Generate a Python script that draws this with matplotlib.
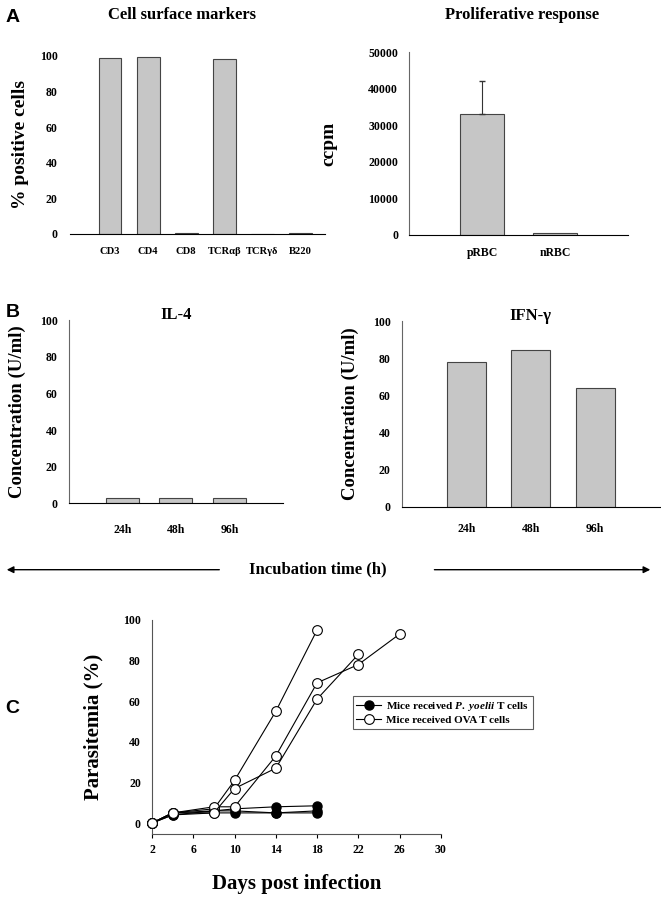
import matplotlib
matplotlib.use("Agg")
import matplotlib.pyplot as plt

plt.rcParams["mathtext.fontset"] = "custom"
plt.rcParams["mathtext.it"] = "Liberation Serif:italic:bold"
plt.rcParams["mathtext.rm"] = "Liberation Serif:bold"

# ---- data ----
markers = ["CD3", "CD4", "CD8", "TCR\u03b1\u03b2", "TCR\u03b3\u03b4", "B220"]
pct_positive = [99, 99.2, 0.3, 98, 0.1, 0.3]

stimuli = ["pRBC", "nRBC"]
ccpm = [33000, 600]
ccpm_err = [9000, 0]

times = ["24h", "48h", "96h"]
il4 = [3, 3, 3]
ifng = [78, 84.5, 64]

days = [2, 4, 8, 10, 14, 18, 22, 26]
yoelii_mice = [
    [0, 4, 5, 5, 5, 5],
    [0, 4, 6, 7, 8, 8.5],
    [0, 5, 6, 6, 5, 6],
]
ova_mice = [
    [0, 5, 7, 21, 55, 95],
    [0, 5, 8, 8, 33, 69, 78, 93],
    [0, 5, 5, 17, 27, 61, 83],
]

SERIF = "Liberation Serif"
BAR = "#c6c6c6"
EDGE = "#444444"

fig = plt.figure(figsize=(6.61, 9.0), dpi=100)

def style_bar_axes(ax, labelsize=8.5):
    for s in ["top", "right"]:
        ax.spines[s].set_visible(False)
    ax.tick_params(axis="both", length=0, labelsize=labelsize)
    for lab in ax.get_xticklabels() + ax.get_yticklabels():
        lab.set_fontfamily(SERIF)
        lab.set_fontweight("bold")

# ---- A left: cell surface markers ----
ax1 = fig.add_axes([0.106, 0.74, 0.386, 0.198])
ax1.bar(range(len(markers)), pct_positive, width=0.6, color=BAR, edgecolor=EDGE, linewidth=0.8)
ax1.set_xlim(-1.05, 5.65)
ax1.set_ylim(0, 100)
ax1.set_yticks([0, 20, 40, 60, 80, 100])
ax1.set_xticks(range(len(markers)))
ax1.set_xticklabels(markers)
ax1.spines["left"].set_visible(False)
style_bar_axes(ax1)
ax1.tick_params(axis="x", pad=9, labelsize=7.6)
ax1.tick_params(axis="y", pad=9)
ax1.set_ylabel("% positive cells", family=SERIF, weight="bold", fontsize=14, labelpad=8)

# ---- A right: proliferative response ----
ax2 = fig.add_axes([0.619, 0.739, 0.331, 0.203])
ax2.bar(range(len(stimuli)), ccpm, width=0.6, color=BAR, edgecolor=EDGE, linewidth=0.8)
ax2.errorbar([0], [ccpm[0]], yerr=[[0], [ccpm_err[0]]], fmt="none", ecolor="#333333",
             elinewidth=0.8, capsize=2)
ax2.set_xlim(-1, 2)
ax2.set_ylim(0, 50000)
ax2.set_yticks([0, 10000, 20000, 30000, 40000, 50000])
ax2.set_xticks(range(len(stimuli)))
ax2.set_xticklabels(stimuli)
style_bar_axes(ax2)
ax2.spines["left"].set_color("#666666")
ax2.tick_params(axis="x", pad=9)
ax2.tick_params(axis="y", pad=8)
ax2.set_ylabel("ccpm", family=SERIF, weight="bold", fontsize=14, labelpad=22)

fig.text(0.275, 0.983, "Cell surface markers", family=SERIF, weight="bold", fontsize=12, ha="center", va="center")
fig.text(0.79, 0.983, "Proliferative response", family=SERIF, weight="bold", fontsize=12, ha="center", va="center")

# ---- B left: IL-4 ----
ax3 = fig.add_axes([0.104, 0.441, 0.324, 0.203])
ax3.bar(range(len(times)), il4, width=0.62, color=BAR, edgecolor=EDGE, linewidth=0.8)
ax3.set_xlim(-1, 3)
ax3.set_ylim(0, 100)
ax3.set_yticks([0, 20, 40, 60, 80, 100])
ax3.set_xticks(range(len(times)))
ax3.set_xticklabels(times)
style_bar_axes(ax3)
ax3.spines["left"].set_color("#666666")
ax3.tick_params(axis="x", pad=15)
ax3.tick_params(axis="y", pad=8)
ax3.set_ylabel("Concentration (U/ml)", family=SERIF, weight="bold", fontsize=13.5, labelpad=10)
ax3.set_title("IL-4", family=SERIF, weight="bold", fontsize=12, y=0.985, va="center")

# ---- B right: IFN-gamma ----
ax4 = fig.add_axes([0.608, 0.437, 0.39, 0.206])
ax4.bar(range(len(times)), ifng, width=0.6, color=BAR, edgecolor=EDGE, linewidth=0.8)
ax4.set_xlim(-1, 3)
ax4.set_ylim(0, 100)
ax4.set_yticks([0, 20, 40, 60, 80, 100])
ax4.set_xticks(range(len(times)))
ax4.set_xticklabels(times)
style_bar_axes(ax4)
ax4.spines["left"].set_color("#666666")
ax4.tick_params(axis="x", pad=12)
ax4.tick_params(axis="y", pad=8)
ax4.set_ylabel("Concentration (U/ml)", family=SERIF, weight="bold", fontsize=13.5, labelpad=10)
ax4.set_title("IFN-\u03b3", family=SERIF, weight="bold", fontsize=12, y=0.985, va="center")

# ---- incubation time arrows ----
fig.text(0.481, 0.367, "Incubation time (h)", family=SERIF, weight="bold", fontsize=12, ha="center", va="center")
fig.add_artist(matplotlib.patches.FancyArrowPatch((0.336, 0.367), (0.006, 0.367), transform=fig.transFigure,
                                                  arrowstyle="-|>", mutation_scale=10, color="black", lw=1))
fig.add_artist(matplotlib.patches.FancyArrowPatch((0.653, 0.367), (0.988, 0.367), transform=fig.transFigure,
                                                  arrowstyle="-|>", mutation_scale=10, color="black", lw=1))

# ---- C: parasitemia ----
ax5 = fig.add_axes([0.230, 0.0733, 0.437, 0.238])
for i, m in enumerate(yoelii_mice):
    ax5.plot(days[:len(m)], m, color="black", lw=0.8, marker="o", ms=6.5, mfc="black", mec="black",
             clip_on=False, label="Mice received $\\mathit{P.\\ yoelii}$ T cells" if i == 0 else None, zorder=3)
for i, m in enumerate(ova_mice):
    ax5.plot(days[:len(m)], m, color="black", lw=0.8, marker="o", ms=7, mfc="white", mec="black", mew=0.8,
             clip_on=False, label="Mice received OVA T cells" if i == 0 else None, zorder=4)
ax5.set_xlim(2, 30)
ax5.set_ylim(-5.4, 100)
ax5.set_xticks([2, 6, 10, 14, 18, 22, 26, 30])
ax5.set_yticks([0, 20, 40, 60, 80, 100])
for s in ["top", "right"]:
    ax5.spines[s].set_visible(False)
ax5.spines["left"].set_color("#555555")
ax5.spines["bottom"].set_color("#555555")
ax5.tick_params(axis="y", length=0, pad=8, labelsize=8.5)
ax5.tick_params(axis="x", length=3, direction="out", pad=4, labelsize=8.5)
for lab in ax5.get_xticklabels() + ax5.get_yticklabels():
    lab.set_fontfamily(SERIF)
    lab.set_fontweight("bold")
ax5.set_ylabel("Parasitemia (%)", family=SERIF, weight="bold", fontsize=15, labelpad=14)
ax5.set_xlabel("Days post infection", family=SERIF, weight="bold", fontsize=15, labelpad=13)
leg = ax5.legend(loc="upper left", bbox_to_anchor=(0.675, 0.67), prop={"family": SERIF, "weight": "bold", "size": 8},
                 frameon=True, fancybox=False, edgecolor="#333333", handlelength=2.2, borderpad=0.35,
                 labelspacing=0.2, handletextpad=0.5)
leg.get_frame().set_linewidth(0.8)

# ---- panel letters ----
for letter, y in [("A", 0.98), ("B", 0.653), ("C", 0.213)]:
    fig.text(0.008, y, letter, family="Liberation Sans", weight="bold", fontsize=14, ha="left", va="center")

fig.savefig("out.png", dpi=100)
